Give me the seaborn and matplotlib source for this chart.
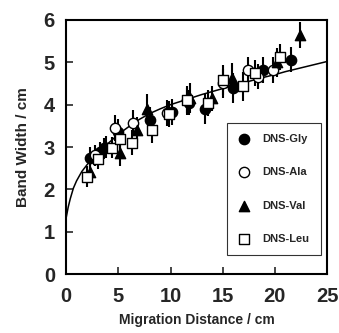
import numpy as np
import pandas as pd
import matplotlib
matplotlib.use("Agg")
import matplotlib.pyplot as plt
import seaborn as sns

# data
gly_x = [2.3, 3.2, 3.6, 5.0, 8.0, 10.1, 11.8, 13.3, 16.0, 18.9, 21.5]
gly_y = [2.74, 2.88, 2.97, 3.36, 3.64, 3.83, 4.05, 3.90, 4.39, 4.82, 5.06]
gly_err = [0.25, 0.25, 0.25, 0.3, 0.3, 0.3, 0.3, 0.35, 0.35, 0.3, 0.3]

ala_x = [2.8, 4.7, 6.4, 9.7, 11.6, 15.0, 17.4, 18.4, 19.8]
ala_y = [2.80, 3.45, 3.57, 3.80, 4.10, 4.50, 4.82, 4.66, 4.82]
ala_err = [0.25, 0.3, 0.3, 0.3, 0.3, 0.35, 0.3, 0.3, 0.3]

val_x = [2.3, 3.8, 5.2, 6.8, 7.7, 11.9, 14.0, 15.9, 20.2, 22.4]
val_y = [2.42, 3.00, 2.86, 3.40, 3.90, 4.15, 4.15, 4.63, 5.00, 5.65]
val_err = [0.25, 0.25, 0.3, 0.3, 0.35, 0.35, 0.3, 0.35, 0.35, 0.3]

leu_x = [2.0, 3.1, 4.4, 5.2, 6.3, 8.2, 9.9, 11.6, 13.6, 15.0, 16.9, 18.1, 20.5]
leu_y = [2.30, 2.72, 2.98, 3.20, 3.10, 3.40, 3.78, 4.10, 4.04, 4.58, 4.43, 4.75, 5.13]
leu_err = [0.25, 0.25, 0.25, 0.3, 0.3, 0.3, 0.3, 0.35, 0.3, 0.35, 0.35, 0.3, 0.3]

# fitted curve
fit_x = [0, 0.2, 0.4, 0.7, 1.0, 1.5, 2.0, 2.5, 3.0, 4.0, 5.0, 6.0, 7.0, 8.0, 9.0,
         10.0, 11.0, 12.0, 13.0, 14.0, 15.0, 16.0, 17.5, 19.0, 20.0, 21.0, 22.5, 24.0, 25.0]
fit_y = [1.32, 1.58, 1.78, 2.03, 2.20, 2.42, 2.58, 2.72, 2.85, 3.08, 3.30, 3.48, 3.65, 3.79, 3.90,
         4.00, 4.08, 4.16, 4.24, 4.31, 4.38, 4.45, 4.55, 4.65, 4.71, 4.78, 4.87, 4.96, 5.02]

names = ["DNS-Gly", "DNS-Ala", "DNS-Val", "DNS-Leu"]

frames = []
for name, xs, ys, es in zip(names, [gly_x, ala_x, val_x, leu_x], [gly_y, ala_y, val_y, leu_y],
                            [gly_err, ala_err, val_err, leu_err]):
    frames.append(pd.DataFrame({"x": xs, "y": ys, "err": es, "sample": name}))
df = pd.concat(frames, ignore_index=True)

sns.set_style("ticks")
plt.rcParams["font.family"] = ["Liberation Sans", "DejaVu Sans"]
plt.rcParams["font.weight"] = "bold"

fig = plt.figure(figsize=(3.39, 3.33), dpi=100)
ax = fig.add_axes([0.195, 0.177, 0.77, 0.763])

sns.lineplot(x=fit_x, y=fit_y, ax=ax, color="black", linewidth=1.1, zorder=2)

ax.errorbar(df["x"], df["y"], yerr=df["err"], fmt="none", ecolor="black",
            elinewidth=1.5, capsize=0, zorder=3)

markers = {"DNS-Gly": "o", "DNS-Ala": "o", "DNS-Val": "^", "DNS-Leu": "s"}
faces = {"DNS-Gly": "black", "DNS-Ala": "white", "DNS-Val": "black", "DNS-Leu": "white"}
for name in names:
    sub = df[df["sample"] == name]
    sns.scatterplot(data=sub, x="x", y="y", ax=ax, marker=markers[name], s=55,
                    facecolor=faces[name], edgecolor="black", linewidth=1.0,
                    label=name, zorder=4)

ax.set_xlim(0, 25)
ax.set_ylim(0, 6)
ax.set_xticks([0, 5, 10, 15, 20, 25])
ax.set_yticks([0, 1, 2, 3, 4, 5, 6])
ax.tick_params(direction="in", length=5, width=1.2, labelsize=14.5, pad=8)
ax.tick_params(axis="x", pad=9)
for lab in ax.get_xticklabels() + ax.get_yticklabels():
    lab.set_fontweight("bold")
for sp in ax.spines.values():
    sp.set_visible(True)
    sp.set_linewidth(1.5)
    sp.set_color("black")

ax.set_xlabel("Migration Distance / cm", fontsize=10, fontweight="bold", labelpad=5)
ax.set_ylabel("Band Width / cm", fontsize=11, fontweight="bold", labelpad=10)

leg = ax.legend(loc="lower right", bbox_to_anchor=(0.975, 0.075), frameon=True, fancybox=False,
                edgecolor="black", fontsize=8, labelspacing=2.1, handletextpad=1.2,
                borderpad=1.0, handlelength=1.0, borderaxespad=0)
leg.get_frame().set_linewidth(0.8)
for t in leg.get_texts():
    t.set_fontweight("bold")

fig.savefig("out.png", dpi=100)
